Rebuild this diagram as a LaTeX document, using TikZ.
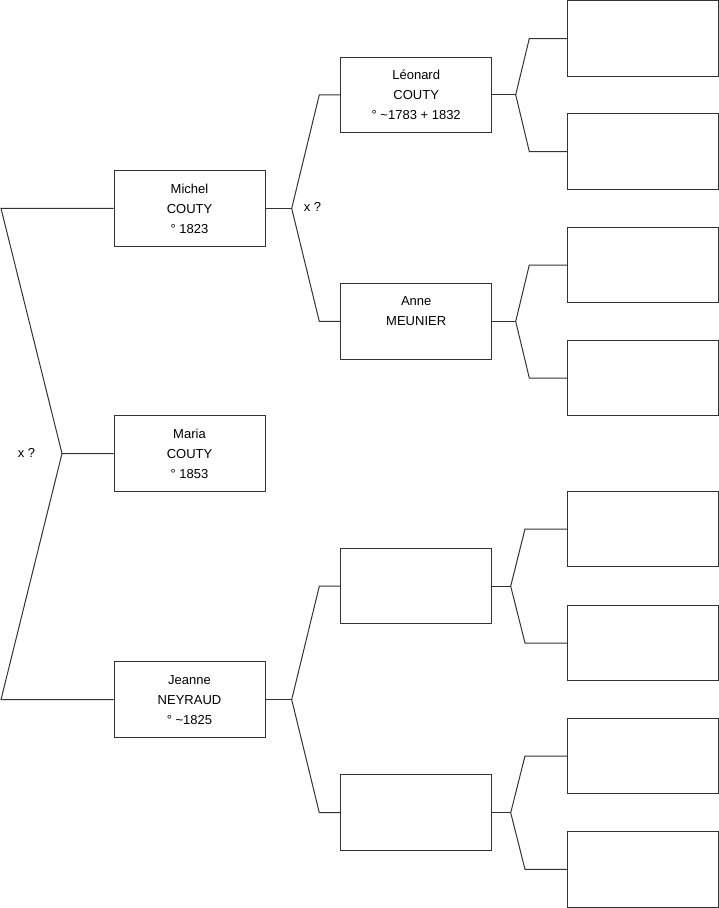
\documentclass[tikz,border=0pt]{standalone}
\usepackage{fontspec}
\setmainfont{Liberation Sans}
\begin{document}
\begin{tikzpicture}[x={(1pt,0)}, y={(0,-1pt)},
  box/.style={draw=black!80, line width=1pt, minimum width=151pt, minimum height=75.5pt,
    inner sep=0pt, align=center, font=\fontsize{13}{20}\selectfont},
  conn/.style={draw=black!80, line width=1pt},
  lbl/.style={font=\fontsize{13}{16}\selectfont, inner sep=0pt}]
\useasboundingbox (0,0) rectangle (719,908);
% generation 1
\node[box] (michel) at (189.5,208.4) {Michel\\COUTY\\° 1823};
\node[box] (maria)  at (189.5,453.5) {Maria\\COUTY\\° 1853};
\node[box] (jeanne) at (189.5,699.6) {Jeanne\\NEYRAUD\\° \textasciitilde1825};
% generation 2
\node[box] (leonard) at (416.2,94.8)  {Léonard\\COUTY\\° \textasciitilde1783 + 1832};
\node[box] (anne)    at (416.2,321.4) {Anne\\MEUNIER\\\mbox{}};
\node[box] (e1)      at (416.2,586.2) {};
\node[box] (e2)      at (416.2,812.7) {};
% generation 3
\node[box] (r1) at (643,38.5)  {};
\node[box] (r2) at (643,151.5) {};
\node[box] (r3) at (643,265)   {};
\node[box] (r4) at (643,378)   {};
\node[box] (r5) at (643,529)   {};
\node[box] (r6) at (643,643)   {};
\node[box] (r7) at (643,756)   {};
\node[box] (r8) at (643,869.3) {};
% labels
\node[lbl] (x1) at (26.5,452.7) {x ?};
\node[lbl] (x2) at (312.5,206.7) {x ?};
% junction coordinates
\coordinate (L1) at (1,208.4);
\coordinate (L2) at (62,453.5);
\coordinate (L3) at (1,699.6);
\coordinate (M1) at (291.7,208.4);
\coordinate (M1a) at (319.3,94.8);
\coordinate (M1b) at (319.3,321.4);
\coordinate (M2) at (291.7,699.6);
\coordinate (M2a) at (319.3,586.2);
\coordinate (M2b) at (319.3,812.7);
\coordinate (R1) at (515.7,94.8);
\coordinate (R1a) at (529.3,38.5);
\coordinate (R1b) at (529.3,151.5);
\coordinate (R2) at (515.7,321.4);
\coordinate (R2a) at (529.3,265);
\coordinate (R2b) at (529.3,378);
\coordinate (R3) at (510.7,586.2);
\coordinate (R3a) at (525,529);
\coordinate (R3b) at (525,643);
\coordinate (R4) at (510.7,812.7);
\coordinate (R4a) at (525,756);
\coordinate (R4b) at (525,869.3);
% connectors
\draw[conn] (michel.west) -- (L1) -- (L2) -- (maria.west);
\draw[conn] (L2) -- (L3) -- (jeanne.west);
\draw[conn] (michel.east) -- (M1);
\draw[conn] (leonard.west) -- (M1a) -- (M1) -- (M1b) -- (anne.west);
\draw[conn] (jeanne.east) -- (M2);
\draw[conn] (e1.west) -- (M2a) -- (M2) -- (M2b) -- (e2.west);
\draw[conn] (leonard.east) -- (R1);
\draw[conn] (r1.west) -- (R1a) -- (R1) -- (R1b) -- (r2.west);
\draw[conn] (anne.east) -- (R2);
\draw[conn] (r3.west) -- (R2a) -- (R2) -- (R2b) -- (r4.west);
\draw[conn] (e1.east) -- (R3);
\draw[conn] (r5.west) -- (R3a) -- (R3) -- (R3b) -- (r6.west);
\draw[conn] (e2.east) -- (R4);
\draw[conn] (r7.west) -- (R4a) -- (R4) -- (R4b) -- (r8.west);
\end{tikzpicture}
\end{document}
